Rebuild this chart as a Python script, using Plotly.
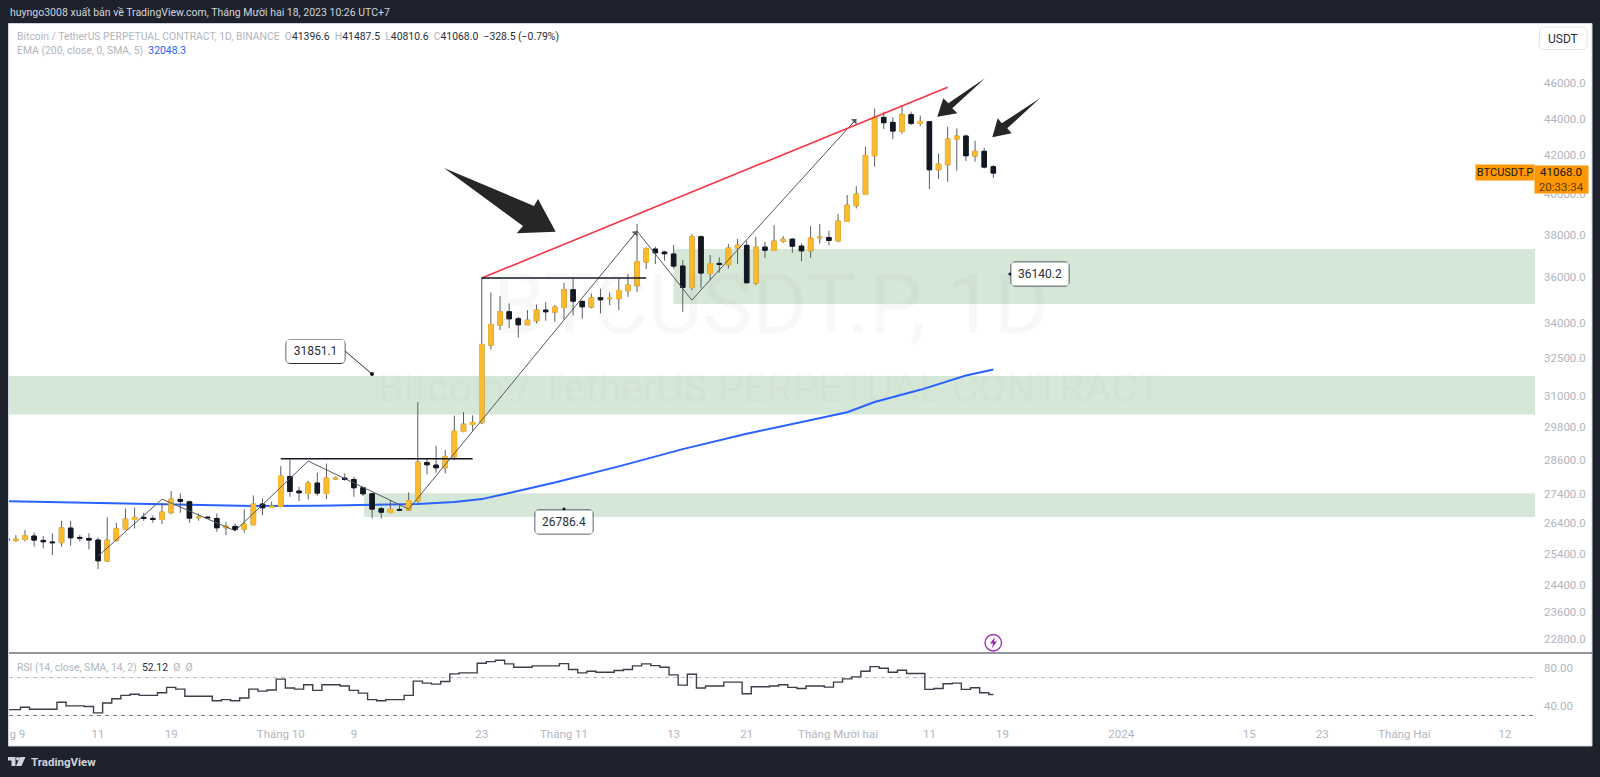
import math
import pandas as pd
import plotly.graph_objects as go

# ---------- data ----------
dates = pd.date_range("2023-09-01", "2023-12-18", freq="D")
opens = [25890,25812,25856,25965,25823,25770,25750,26228,25921,25888,25834,25157,25823,26195,26517,26584,26550,26517,26740,27195,27115,26572,26595,26550,26239,26283,26195,26339,27036,26922,
 26956,27996,27483,27402,27762,27402,27902,27937,27890,27599,27390,26876,26751,26854,26831,27138,28495,28400,28305,28701,29634,29896,29961,33047,33893,34469,34165,33908,34079,34542,34454,
 34659,35442,34922,34673,35084,35040,35040,35397,35621,36703,37310,37169,37076,36517,35546,37897,36182,36642,36580,37357,37484,35740,37401,37259,37686,37780,37449,37228,37844,37860,
 37701,38634,39407,39977,41979,44064,43786,43292,44213,43731,43823,41242,41504,42873,43035,41961,42213,41396.6]
highs = [25950,25998,26161,26085,25965,26052,26472,26472,25998,26052,25921,26584,26406,26888,26910,26740,26650,27081,27483,27402,27149,26717,26606,26717,26439,26383,26854,27332,27229,27115,
 28364,28604,27634,27843,28127,28459,27996,28103,27985,27634,27402,26944,27172,27001,27437,30752,28640,29102,28944,30235,30370,30245,35999,35323,35158,34834,34251,34542,34790,34892,34761,
 35755,35954,34980,35278,35487,35323,35954,36152,38511,37389,37421,37231,37500,36797,38024,37945,37030,36921,37548,37786,37706,37897,37654,38456,37923,37828,37575,38408,38505,38182,
 38994,39944,40398,42461,44550,44382,44064,44755,44382,44157,43823,42102,43548,43456,43108,42783,42392,41487.5]
lows = [25780,25780,25790,25627,25563,25349,25616,25649,25790,25531,24904,25135,25780,26161,26217,26472,26406,26361,26695,26740,26406,26472,26561,26107,25998,26128,26074,26328,26661,26910,
 26922,27286,27138,27195,27321,27206,27866,27843,27286,27309,26550,26550,26717,26797,26797,27081,28068,28127,28103,28580,29600,29665,29910,32865,33679,33765,33369,33908,33965,34079,34036,
 34137,34308,34165,34615,34396,34761,34542,35129,35352,36380,36611,36766,36410,34469,35427,35501,35878,36212,36410,36611,35725,35650,36900,37259,37607,37133,36745,36900,37575,37480,
 37638,38618,39275,39944,41400,43420,42873,43164,43640,43585,40246,40760,40622,41190,41697,41662,41312,40810.6]
closes = [25810,25867,25976,25834,25780,25750,26239,25910,25899,25834,25167,25834,26206,26528,26584,26550,26517,26762,27206,27127,26561,26595,26572,26239,26294,26183,26361,27036,26910,26967,
 28008,27472,27425,27762,27414,27937,27937,27890,27599,27390,26865,26762,26854,26831,27149,28507,28412,28305,28713,29646,29908,29974,33075,33922,34469,34165,33908,34108,34542,34469,34673,
 35442,34936,34688,35084,34995,35069,35412,35650,36720,37325,37138,37092,36517,35546,37897,36197,36626,36595,37357,37500,35756,37405,37259,37686,37780,37449,37228,37828,37875,37717,
 38650,39440,39994,41996,44064,43768,43310,44232,43731,43841,41242,41539,42873,43035,41979,42213,41380,41068.0]

ema_dates = ["2023-09-01","2023-09-10","2023-09-20","2023-09-28","2023-10-05","2023-10-12","2023-10-16","2023-10-20","2023-10-23","2023-10-26","2023-10-31","2023-11-07","2023-11-14","2023-11-21","2023-11-28","2023-12-02","2023-12-05","2023-12-10","2023-12-15","2023-12-18"]
ema_values = [27138,27081,27013,26967,26979,27013,27036,27104,27206,27420,27780,28354,28980,29551,30048,30360,30754,31233,31800,32048.3]

rsi_values = [36.2,36.2,38.7,36.6,36.6,36.6,43.9,40.1,40.1,39.4,32.8,43.2,47.7,51.2,52.3,51.2,51.2,54.0,59.6,57.8,50.2,50.2,50.2,45.6,46.7,45.6,48.4,57.8,55.7,56.8,
 68.3,58.9,57.8,62.3,56.4,62.3,62.3,61.0,56.4,53.6,46.7,45.6,46.7,46.7,51.2,66.2,64.1,63.0,65.8,73.8,74.9,74.9,85.0,86.7,88.1,84.3,80.8,80.8,82.2,82.2,82.2,
 84.6,78.4,74.9,76.6,75.6,75.6,77.3,78.4,82.2,84.3,82.5,80.8,72.8,62.0,73.5,58.9,61.0,61.0,65.1,65.1,52.9,60.3,60.3,61.0,62.3,59.6,58.5,61.0,61.0,59.9,
 65.1,68.6,70.7,76.6,81.5,79.7,75.6,77.7,74.2,74.2,57.5,58.5,63.4,64.1,57.5,59.2,54.0,52.12]

range_start, range_end = "2023-09-01 06:00", "2024-02-15 07:00"
zone_low = {"start": "2023-10-10 03:00", "prices": [26598, 27410]}
zone_mid = {"start": range_start, "prices": [30270, 31782]}
zone_high = {"start": "2023-11-13", "prices": [34810, 37315]}

red_dates = ["2023-10-23", "2023-12-13"]
red_prices = [35970, 45770]
level_a_dates = ["2023-10-01", "2023-10-22"]
level_a_price = 28629
level_b_dates = ["2023-10-23", "2023-11-10"]
level_b_price = 35970
path_dates = ["2023-09-11","2023-09-18","2023-09-26","2023-10-04","2023-10-15","2023-11-09","2023-11-15","2023-12-03"]
path_prices = [25317,27206,26139,28544,26865,38169,34980,43970]

price_ticks = [46000,44000,42000,40000,38000,36000,34000,32500,31000,29800,28600,27400,26400,25400,24400,23600,22800]
rsi_ticks = [80, 40]
time_tick_dates = ["2023-09-02 04:00","2023-09-11","2023-09-19","2023-10-01","2023-10-09","2023-10-23","2023-11-01","2023-11-13","2023-11-21","2023-12-01","2023-12-11","2023-12-19","2024-01-01","2024-01-15","2024-01-23","2024-02-01","2024-02-12"]
time_tick_text = ["g 9","11","19","Tháng 10","9","23","Tháng 11","13","21","Tháng Mười hai","11","19","2024","15","23","Tháng Hai","12"]

# ---------- styling ----------
W, H = 1600, 777
FONT = "Roboto"
DARK = "#1e222d"
INK = "#131722"
GREY = "#b2b5be"
YEL = "#fdbb2a"
GREEN = "#d5e7d6"

def X(p): return p / W
def Y(p): return 1 - p / H

fig = go.Figure()

# EMA sits on the base subplot, under the candles on the overlaying axis
fig.add_trace(go.Scatter(x=ema_dates, y=ema_values, mode="lines", line=dict(color="#2962ff", width=2), hoverinfo="skip"))

# wicks, then bodies drawn over them
fig.add_trace(go.Candlestick(x=dates, open=opens, high=highs, low=lows, close=closes, yaxis="y3",
    increasing=dict(line=dict(color="#5c5e66", width=1), fillcolor="#5c5e66"),
    decreasing=dict(line=dict(color="#5c5e66", width=1), fillcolor="#5c5e66"), whiskerwidth=0, hoverinfo="skip"))
body_hi = [max(o, c) for o, c in zip(opens, closes)]
body_lo = [min(o, c) for o, c in zip(opens, closes)]
fig.add_trace(go.Candlestick(x=dates, open=opens, high=body_hi, low=body_lo, close=closes, yaxis="y3",
    increasing=dict(line=dict(color=YEL, width=1), fillcolor=YEL),
    decreasing=dict(line=dict(color=INK, width=1), fillcolor=INK), whiskerwidth=0, hoverinfo="skip"))

fig.add_trace(go.Scatter(x=path_dates, y=path_prices, yaxis="y3", mode="lines", line=dict(color="#55575e", width=1), hoverinfo="skip"))
fig.add_trace(go.Scatter(x=red_dates, y=red_prices, yaxis="y3", mode="lines", line=dict(color="#f23645", width=1.6), hoverinfo="skip"))
fig.add_trace(go.Scatter(x=level_a_dates, y=[level_a_price] * 2, yaxis="y3", mode="lines", line=dict(color=INK, width=1.6), hoverinfo="skip"))
fig.add_trace(go.Scatter(x=level_b_dates, y=[level_b_price] * 2, yaxis="y3", mode="lines", line=dict(color=INK, width=1.6), hoverinfo="skip"))

# RSI pane
fig.add_trace(go.Scatter(x=[range_start, range_end], y=[70, 70], yaxis="y2", mode="lines",
                         line=dict(color="#b8bac0", width=1, dash="4px,4px"), hoverinfo="skip"))
fig.add_trace(go.Scatter(x=[range_start, range_end], y=[30, 30], yaxis="y2", mode="lines",
                         line=dict(color="#787b86", width=1, dash="4px,4px"), hoverinfo="skip"))
fig.add_trace(go.Scatter(x=dates, y=rsi_values, yaxis="y2", mode="lines",
                         line=dict(color="#3c3f4a", width=1.4, shape="hvh"), hoverinfo="skip"))

shapes = []
# page panel
shapes.append(dict(type="rect", xref="paper", yref="paper", x0=X(8.5), x1=X(1592), y0=Y(746), y1=Y(23.5),
                   fillcolor="#ffffff", line=dict(color="#d1d4dc", width=1), layer="below"))
shapes.append(dict(type="line", xref="paper", yref="paper", x0=X(9), x1=X(1592), y0=Y(653), y1=Y(653),
                   line=dict(color="#2a2e39", width=1), layer="above"))

# green zones, under the candles
for z in (zone_low, zone_mid, zone_high):
    shapes.append(dict(type="rect", xref="x", yref="y", x0=z["start"], x1=range_end, y0=z["prices"][0], y1=z["prices"][1],
                       fillcolor=GREEN, line=dict(width=0), layer="below"))

def poly(points, color):
    d = "M " + " L ".join(f"{X(a):.5f} {Y(b):.5f}" for a, b in points) + " Z"
    shapes.append(dict(type="path", xref="paper", yref="paper", path=d, fillcolor=color, line=dict(width=0), layer="above"))

# hand-drawn arrows
poly([(444,168),(534,206),(538,199),(555.7,231.7),(516.7,233.3),(523,226)], "#262626")
poly([(985,78.3),(948.3,103.3),(943.3,98.3),(937.3,116.7),(957.3,113.3),(952.3,108.3)], "#262626")
poly([(1040,98.3),(1001.7,123.3),(997.7,118.3),(992.3,137.3),(1011.7,133.3),(1007.3,128.3)], "#262626")

def rounded(x0, y0, x1, y1, color, r=4, fill="rgba(0,0,0,0)", width=1):
    c = lambda a, b: f"{X(a):.5f} {Y(b):.5f}"
    d = (f"M {c(x0+r,y0)} L {c(x1-r,y0)} Q {c(x1,y0)} {c(x1,y0+r)} L {c(x1,y1-r)} Q {c(x1,y1)} {c(x1-r,y1)} "
         f"L {c(x0+r,y1)} Q {c(x0,y1)} {c(x0,y1-r)} L {c(x0,y0+r)} Q {c(x0,y0)} {c(x0+r,y0)} Z")
    shapes.append(dict(type="path", xref="paper", yref="paper", path=d, fillcolor=fill, line=dict(color=color, width=width), layer="above"))

def dot(cx, cy, r, color):
    shapes.append(dict(type="circle", xref="paper", yref="paper", x0=X(cx-r), x1=X(cx+r), y0=Y(cy+r), y1=Y(cy-r),
                       fillcolor=color, line=dict(width=0), layer="above"))

rounded(286, 339.5, 345, 363.5, "#2a2e39")
rounded(535, 510, 593, 534, "#2a2e39")
rounded(1011, 262, 1069, 286, "#2a2e39")
shapes.append(dict(type="line", xref="paper", yref="paper", x0=X(345), y0=Y(351), x1=X(372), y1=Y(374),
                   line=dict(color="#2a2e39", width=1), layer="above"))
dot(372, 374, 2, INK)
dot(564, 509, 1.6, INK)
dot(1010, 274, 1.6, INK)

# USDT button
rounded(1539.5, 27, 1587, 49.5, "#e0e3eb", r=5)

# purple flash
shapes.append(dict(type="circle", xref="paper", yref="paper", x0=X(985), x1=X(1001.5), y0=Y(651), y1=Y(634.5),
                   fillcolor="#ffffff", line=dict(color="#9c27b0", width=1.3), layer="above"))
poly([(995,637),(990,643.5),(993,643.5),(992,648),(997,641.5),(994,641.5)], "#9c27b0")

# TradingView logo
poly([(8,757),(15.5,757),(15.5,766),(11.5,766),(11.5,760.5),(8,760.5)], "#d1d4dc")
dot(17.8, 758.8, 1.8, "#d1d4dc")
poly([(20,757),(25.5,757),(21.5,766),(16,766)], "#d1d4dc")

ann = []
def text(px, py, s, size=11, color=GREY, xanchor="left", **kw):
    ann.append(dict(xref="paper", yref="paper", x=X(px), y=Y(py), text=s, showarrow=False, xanchor=xanchor,
                    yanchor="middle", font=dict(family=FONT, size=size, color=color), **kw))

# watermarks
text(771, 304, "BTCUSDT.P, 1D", size=84, color="rgba(120,123,134,0.055)", xanchor="center")
text(770, 388, "Bitcoin / TetherUS PERPETUAL CONTRACT", size=41, color="rgba(120,123,134,0.055)", xanchor="center")

text(8, 12.5, "huyngo3008 xuất bản về TradingView.com, Tháng Mười hai 18, 2023 10:26 UTC+7", size=10.5, color="#d1d4dc")
V = lambda s: f"<span style='color:#2a2e39'>{s}</span>"
text(15, 36, "Bitcoin / TetherUS PERPETUAL CONTRACT, 1D, BINANCE  O" + V("41396.6") + "  H" + V("41487.5")
     + "  L" + V("40810.6") + "  C" + V("41068.0") + V("  −328.5 (−0.79%)"), size=10.4)
text(15, 51, "EMA (200, close, 0, SMA, 5)  <span style='color:#2962ff'>32048.3</span>", size=10.4)
text(15, 667, "RSI (14, close, SMA, 14, 2)  " + V("52.12") + "  Ø  Ø", size=10.4)
text(1563, 39, "USDT", size=12, color="#2a2e39", xanchor="center")
text(29, 761.5, "<b>TradingView</b>", size=11.5, color="#d1d4dc")

def box(x0, y0, x1, y1, s, size=11, color="#2a2e39", bg="#ffffff", align="center"):
    ann.append(dict(xref="paper", yref="paper", x=X((x0+x1)/2), y=Y((y0+y1)/2), text=s, showarrow=False,
                    xanchor="center", yanchor="middle", width=x1-x0, height=y1-y0, borderpad=0, bgcolor=bg, align=align,
                    font=dict(family=FONT, size=size, color=color)))

box(287, 340.5, 344, 362.5, "31851.1", size=12)
box(536, 511, 592, 533, "26786.4", size=12)
box(1012, 263, 1068, 285, "36140.2", size=12)
box(1476, 165.5, 1534, 180, "BTCUSDT.P", size=11, color=INK, bg="#ff9800")
box(1535.5, 165.5, 1588, 192.5, "41068.0<br><span style='color:#5d3b00'>20:33:34</span>", size=11.5, color=INK, bg="#ff9800")

# open arrowheads closing the zig-zag legs
for d, p, ax, ay in [(path_dates[5], path_prices[5], -8, 10), (path_dates[7], path_prices[7], -8, 9)]:
    ann.append(dict(x=d, y=math.log10(p), xref="x", yref="y", text="", showarrow=True, ax=ax, ay=ay, axref="pixel", ayref="pixel",
                    arrowhead=1, arrowsize=1.3, arrowwidth=1, arrowcolor="#55575e", standoff=0))

# axis ranges
top_price, bottom_price = 49610, 22400
rsi_top, rsi_bottom = 95.8, 22.1
log_range = [math.log10(bottom_price), math.log10(top_price)]

fig.update_layout(
    width=W, height=H, margin=dict(l=0, r=0, t=0, b=0), autosize=False,
    paper_bgcolor=DARK, plot_bgcolor="rgba(0,0,0,0)", showlegend=False, boxgap=0.3, hovermode=False,
    font=dict(family=FONT),
    xaxis=dict(type="date", domain=[X(9), X(1535)], range=[range_start, range_end], anchor="y2",
               tickmode="array", tickvals=time_tick_dates, ticktext=time_tick_text, showgrid=False, zeroline=False,
               showline=False, ticks="", ticklabelstandoff=2, tickfont=dict(family=FONT, size=11.5, color=GREY),
               rangeslider=dict(visible=False), fixedrange=True),
    yaxis=dict(type="log", domain=[Y(653), Y(23.5)], range=log_range, side="right",
               anchor="x", tickmode="array", tickvals=price_ticks, ticktext=[f"{t:.1f}" for t in price_ticks],
               showgrid=False, zeroline=False, showline=False, ticks="", ticklabelstandoff=8,
               tickfont=dict(family=FONT, size=11.5, color=GREY), fixedrange=True),
    yaxis3=dict(type="log", domain=[Y(653), Y(23.5)], range=log_range, side="right", overlaying="y", anchor="x",
                showticklabels=False, showgrid=False, zeroline=False, showline=False, ticks="", fixedrange=True),
    yaxis2=dict(domain=[Y(723), Y(653)], range=[rsi_bottom, rsi_top], side="right", anchor="x",
                tickmode="array", tickvals=rsi_ticks, ticktext=[f"{t:.2f}" for t in rsi_ticks],
                showgrid=False, zeroline=False, showline=False, ticks="", ticklabelstandoff=8,
                tickfont=dict(family=FONT, size=11.5, color=GREY), fixedrange=True),
    shapes=shapes, annotations=ann,
)

fig.write_html("out.html", config={"displayModeBar": False},
               post_script="document.body.style.margin='0';document.body.style.overflow='hidden';")
